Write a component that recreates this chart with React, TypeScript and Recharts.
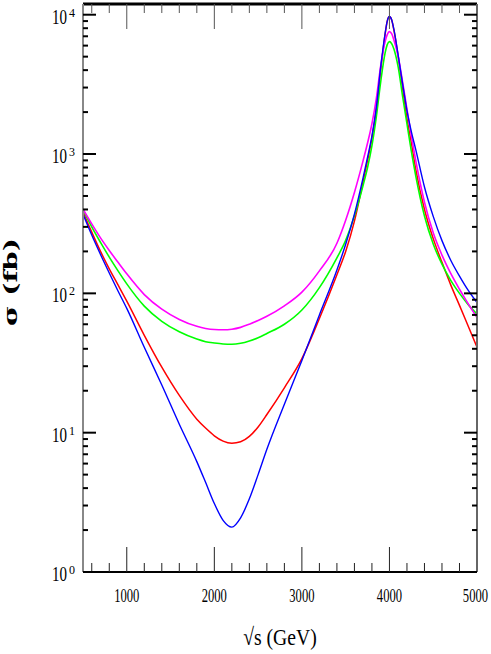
import React from 'react';
import { LineChart, Line, XAxis, YAxis } from 'recharts';

const energy = [500, 600, 700, 800, 900, 1000, 1200, 1400, 1600, 1800, 1900, 2000, 2100, 2200, 2300, 2400, 2500, 2600, 2800, 3000, 3200, 3400, 3500, 3600, 3700, 3750, 3800, 3850, 3900, 3950, 3975, 4000, 4025, 4050, 4100, 4150, 4200, 4250, 4300, 4400, 4500, 4600, 4700, 4800, 4900, 5000];

const sigmaMagenta = [402, 315, 250, 203, 167, 138, 98, 77, 65, 58, 56, 55, 54.8, 55.3, 57, 60, 63.8, 68.4, 81.3, 102, 145, 229, 335, 530, 900, 1200, 1650, 2500, 4300, 6400, 7200, 7560, 7300, 6600, 5000, 3300, 2100, 1350, 900, 451, 272, 188, 139, 107, 84, 67];
const sigmaGreen = [400, 300, 232, 182, 145, 117, 81, 63, 53, 47, 45, 44, 43.3, 43.1, 43.8, 45.5, 48, 51.5, 60, 76, 110, 180, 240, 360, 600, 800, 1150, 1850, 3300, 5300, 6100, 6410, 6200, 5700, 4200, 2600, 1650, 1050, 700, 359, 226, 162, 124, 100, 83, 71];
const sigmaRed = [385, 275, 200, 150, 115, 88, 50, 29.5, 18.5, 12.5, 10.8, 9.5, 8.7, 8.4, 8.6, 9.4, 11, 13.5, 21, 34, 66, 136, 200, 330, 640, 900, 1300, 2100, 4000, 7200, 9000, 9700, 9200, 7800, 5000, 3000, 1800, 1200, 780, 400, 247, 167, 115, 82, 58, 41];
const sigmaBlue = [370, 262, 190, 140, 104, 78, 41, 22, 11.5, 6.2, 4.4, 3.1, 2.35, 2.1, 2.45, 3.35, 5.0, 7.6, 16, 33, 70, 147, 225, 370, 680, 950, 1350, 2150, 4200, 7300, 9000, 9700, 9200, 7900, 5100, 3200, 2050, 1450, 1080, 580, 357, 239, 173, 133, 105, 86];

const xTicks = [600, 800, 1000, 1200, 1400, 1600, 1800, 2000, 2200, 2400, 2600, 2800, 3000, 3200, 3400, 3600, 3800, 4000, 4200, 4400, 4600, 4800, 5000];
const xLabelTicks = [1000, 2000, 3000, 4000, 5000];
const yTicks = [1, 2, 3, 4, 5, 6, 7, 8, 9, 10, 20, 30, 40, 50, 60, 70, 80, 90, 100, 200, 300, 400, 500, 600, 700, 800, 900, 1000, 2000, 3000, 4000, 5000, 6000, 7000, 8000, 9000, 10000];
const yLabelTicks = [1, 10, 100, 1000, 10000];

const data = energy.map((s, i) => ({
  s,
  magenta: sigmaMagenta[i],
  green: sigmaGreen[i],
  red: sigmaRed[i],
  blue: sigmaBlue[i],
}));

const FONT = '"Liberation Serif", "DejaVu Serif", serif';

const BottomTick = (props: any) => {
  const { x, y, payload } = props;
  const v = payload.value;
  const major = xLabelTicks.includes(v);
  const len = major ? 25 : 9;
  const last = v === 5000;
  return (
    <g>
      {!last && <line x1={x} y1={y} x2={x} y2={y - len} stroke="#222" strokeWidth={1} />}
      {major && (
        <text
          transform={`translate(${last ? x + 11 : x} ${y + 30}) scale(0.7 1)`}
          textAnchor={last ? 'end' : 'middle'}
          fontFamily={FONT}
          fontSize={18}
          fill="#000"
        >
          {v}
        </text>
      )}
    </g>
  );
};

const TopTick = (props: any) => {
  const { x, y, payload } = props;
  const v = payload.value;
  const major = xLabelTicks.includes(v);
  const len = major ? 25 : 9;
  if (v >= 5000) return <g />;
  return <line x1={x} y1={y} x2={x} y2={y + len} stroke="#555" strokeWidth={1} />;
};

const LeftTick = (props: any) => {
  const { x, y, payload } = props;
  const v = payload.value;
  const major = yLabelTicks.includes(v);
  const len = major ? 13 : 5;
  const exp = Math.round(Math.log10(v));
  return (
    <g>
      <line x1={x} y1={y} x2={x + len} y2={y} stroke="#000" strokeWidth={2} />
      {major && (
        <g>
          <text transform={`translate(${x - 16} ${y + 9}) scale(0.75 1)`} textAnchor="end" fontFamily={FONT} fontSize={20} fill="#000">
            10
          </text>
          <text x={x - 14} y={y + 2} textAnchor="start" fontFamily={FONT} fontSize={12} fill="#000">
            {exp}
          </text>
        </g>
      )}
    </g>
  );
};

const RightTick = (props: any) => {
  const { x, y, payload } = props;
  const v = payload.value;
  const major = yLabelTicks.includes(v);
  const len = major ? 13 : 5;
  return <line x1={x} y1={y} x2={x - len} y2={y} stroke="#000" strokeWidth={2} />;
};

export default function App() {
  return (
    <div style={{ position: 'absolute', left: 0, top: 0, width: 491, height: 654, background: '#fff' }}>
      <LineChart width={491} height={654} data={data} margin={{ top: 0, right: 0, bottom: 0, left: 0 }}>
        <XAxis
          xAxisId="b"
          dataKey="s"
          type="number"
          domain={[500, 5000]}
          ticks={xTicks}
          interval={0}
          height={82}
          tickSize={0}
          tickMargin={0}
          tickLine={false}
          axisLine={{ stroke: '#000', strokeWidth: 2 }}
          tick={BottomTick}
          allowDataOverflow
        />
        <XAxis
          xAxisId="t"
          orientation="top"
          dataKey="s"
          type="number"
          domain={[500, 5000]}
          ticks={xTicks}
          interval={0}
          height={4}
          tickSize={0}
          tickMargin={0}
          tickLine={false}
          axisLine={{ stroke: '#000', strokeWidth: 3 }}
          tick={TopTick}
          allowDataOverflow
        />
        <YAxis
          yAxisId="l"
          type="number"
          scale="log"
          domain={[1, 11935]}
          ticks={yTicks}
          interval={0}
          width={83}
          tickSize={0}
          tickMargin={0}
          tickLine={false}
          axisLine={{ stroke: '#888', strokeWidth: 2 }}
          tick={LeftTick}
          allowDataOverflow
        />
        <YAxis
          yAxisId="r"
          orientation="right"
          type="number"
          scale="log"
          domain={[1, 11935]}
          ticks={yTicks}
          interval={0}
          width={14}
          tickSize={0}
          tickMargin={0}
          tickLine={false}
          axisLine={{ stroke: '#666', strokeWidth: 2 }}
          tick={RightTick}
          allowDataOverflow
        />
        <Line xAxisId="b" yAxisId="l" type="monotone" dataKey="red" stroke="#ff0000" strokeWidth={1.5} dot={false} isAnimationActive={false} />
        <Line xAxisId="b" yAxisId="l" type="monotone" dataKey="green" stroke="#00ff00" strokeWidth={1.6} dot={false} isAnimationActive={false} />
        <Line xAxisId="b" yAxisId="l" type="monotone" dataKey="magenta" stroke="#ff00ff" strokeWidth={1.6} dot={false} isAnimationActive={false} />
        <Line xAxisId="b" yAxisId="l" type="monotone" dataKey="blue" stroke="#0000ff" strokeWidth={1.4} dot={false} isAnimationActive={false} />
      </LineChart>
      <svg width={491} height={654} style={{ position: 'absolute', left: 0, top: 0, pointerEvents: 'none' }}>
        <text transform="translate(280 645) scale(0.82 1)" textAnchor="middle" fontFamily={FONT} fontSize={24} fill="#000">
          √s (GeV)
        </text>
        <text
          x={0}
          y={0}
          transform="translate(17 282) rotate(-90)"
          textAnchor="middle"
          fontFamily='"DejaVu Serif", serif'
          fontWeight="bold"
          fontSize={18}
          fill="#000"
          textLength={88}
          lengthAdjust="spacingAndGlyphs"
        >
          σ (fb)
        </text>
      </svg>
    </div>
  );
}
